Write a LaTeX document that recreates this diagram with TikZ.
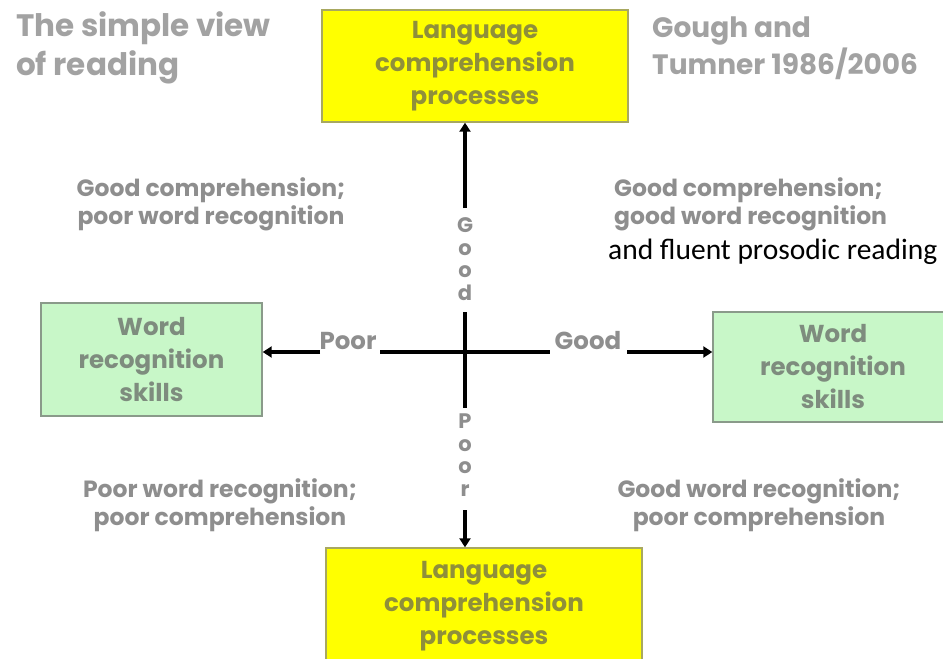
\documentclass[tikz,border=0pt]{standalone}
\usepackage{fontspec}
\newfontfamily\gfont{Poppins}
\newfontfamily\cfont{Carlito}
\usetikzlibrary{arrows.meta}
\definecolor{txtgray}{HTML}{8E8E8E}
\definecolor{ttlgray}{HTML}{A2A2A2}
\definecolor{ylw}{HTML}{FFFF00}
\definecolor{ylwtxt}{HTML}{8F8F3A}
\definecolor{ylwedge}{HTML}{A8A860}
\definecolor{grn}{HTML}{C8F7C8}
\definecolor{grntxt}{HTML}{7E8C7E}
\definecolor{grnedge}{HTML}{8A9A8A}
\tikzset{
  ybox/.style={draw=ylwedge, line width=1.4pt, fill=ylw, text=ylwtxt, align=center,
    font=\gfont\bfseries\fontsize{24.5}{33}\selectfont, inner sep=0pt},
  gbox/.style={draw=grnedge, line width=1.4pt, fill=grn, text=grntxt, align=center,
    font=\gfont\bfseries\fontsize{24.5}{33}\selectfont, inner sep=0pt},
  big/.style={text=ttlgray, align=left, font=\gfont\bfseries\fontsize{31}{39}\selectfont, inner sep=0pt},
  ref/.style={text=ttlgray, align=left, font=\gfont\bfseries\fontsize{28}{37}\selectfont, inner sep=0pt},
  quad/.style={text=txtgray, align=center, font=\gfont\bfseries\fontsize{23.5}{28}\selectfont, inner sep=0pt},
  axlab/.style={text=txtgray, font=\gfont\bfseries\fontsize{24.5}{26}\selectfont, inner sep=0pt},
  vlab/.style={text=txtgray, align=center, font=\gfont\bfseries\fontsize{21}{22.5}\selectfont, inner sep=0pt},
  ax/.style={line width=3.8pt, black},
  axarrow/.style={line width=3.8pt, black, -{Triangle[length=9pt,width=11pt]}},
}
\begin{document}
\begin{tikzpicture}[x=1pt,y=-1pt]
\useasboundingbox (0,0) rectangle (943,659);
\fill[white] (0,0) rectangle (943,659);

% titles
\node[big, anchor=west] (title) at (16,48) {The simple view\\of reading};
\node[ref, anchor=west] (gref) at (652,48) {Gough and\\Tumner 1986/2006};

% boxes
\node[ybox, minimum width=306pt, minimum height=112pt] (lt) at (475,66)
  {Language\\comprehension\\processes};
\node[ybox, minimum width=316pt, minimum height=116pt] (lb) at (484,606)
  {Language\\comprehension\\processes};
\node[gbox, minimum width=221pt, minimum height=113pt] (lw) at (151.5,359.5)
  {Word\\recognition\\skills};
\node[gbox, minimum width=240pt, minimum height=110pt] (rw) at (833,367)
  {Word\\recognition\\skills};

% axes
\coordinate (c) at (465,352);
\coordinate (vt) at (465,208);
\coordinate (vm1) at (465,312);
\coordinate (vm2) at (465,408);
\coordinate (vb) at (465,510);
\coordinate (hl1) at (320,352);
\coordinate (hl2) at (380,352);
\coordinate (hr1) at (550,352);
\coordinate (hr2) at (627,352);

\draw[axarrow] (vt) -- (vt |- lt.south);
\draw[ax] (vm1) -- (vm2);
\draw[axarrow] (vb) -- (vb |- lb.north);
\draw[ax] (hl2) -- (hr1);
\draw[axarrow] (hl1) -- (lw.east |- hl1);
\draw[axarrow] (hr2) -- (rw.west |- hr2);

% axis labels
\node[vlab] (vg) at (465,259) {G\\o\\o\\d};
\node[vlab] (vp) at (465,455) {P\\o\\o\\r};
\node[axlab] (hp) at (348,341) {Poor};
\node[axlab] (hg) at (588,341) {Good};

% quadrant texts
\node[quad] (q1) at (211,204) {Good comprehension;\\poor word recognition};
\node[quad, anchor=west, align=left] (q2) at (614,204) {Good comprehension;\\good word recognition};
\node[anchor=base west, inner sep=0pt, font=\cfont\fontsize{29.5}{32}\selectfont] (q2b) at (608,259) {and fluent prosodic reading};
\node[quad] (q3) at (220,505) {Poor word recognition;\\poor comprehension};
\node[quad] (q4) at (759,505) {Good word recognition;\\poor comprehension};
\end{tikzpicture}
\end{document}
